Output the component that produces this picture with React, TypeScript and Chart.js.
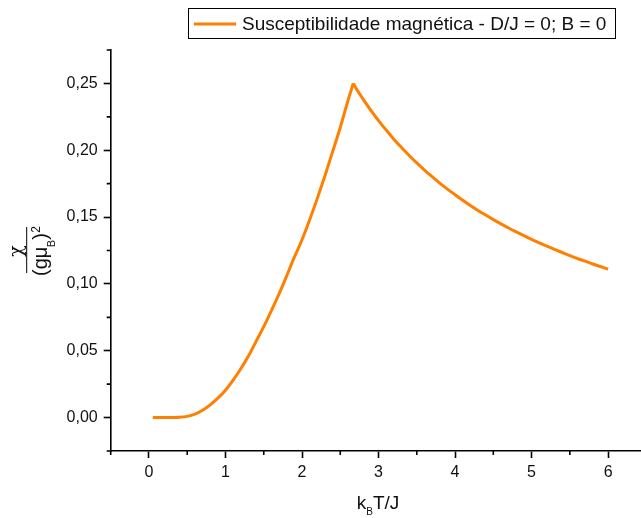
import React, { useEffect, useRef } from "react";
import { Chart, registerables } from "chart.js";

Chart.register(...registerables);

const seriesLabel = "Susceptibilidade magnética - D/J = 0; B = 0";

// below the peak (k_B T / J up to the maximum)
const temperatureLow = [
  0.05, 0.1, 0.2, 0.3, 0.4, 0.5, 0.6, 0.7, 0.8, 0.9, 1.0, 1.1, 1.2, 1.3, 1.4, 1.5,
  1.6, 1.7, 1.8, 1.9, 2.0, 2.1, 2.2, 2.3, 2.4, 2.5, 2.6, 2.67,
];
const susceptibilityLow = [
  0, 0, 0, 0, 0.0002, 0.0009, 0.0026, 0.0055, 0.0095, 0.0145, 0.0205, 0.028, 0.0365,
  0.046, 0.057, 0.068, 0.08, 0.0925, 0.106, 0.12, 0.133, 0.148, 0.164, 0.181, 0.199,
  0.217, 0.237, 0.25,
];

// above the peak
const temperatureHigh = [
  2.67, 2.7, 2.8, 2.9, 3.0, 3.1, 3.2, 3.3, 3.4, 3.5, 3.6, 3.7, 3.8, 3.9, 4.0, 4.1, 4.2,
  4.3, 4.4, 4.5, 4.6, 4.7, 4.8, 4.9, 5.0, 5.1, 5.2, 5.3, 5.4, 5.5, 5.6, 5.7, 5.8, 5.9,
  6.0,
];
const susceptibilityHigh = [
  0.25, 0.2469, 0.2381, 0.2299, 0.2222, 0.2151, 0.2083, 0.202, 0.1961, 0.1905, 0.1852,
  0.1802, 0.1754, 0.1709, 0.1667, 0.1626, 0.1587, 0.155, 0.1515, 0.1481, 0.1449, 0.1418,
  0.1389, 0.1361, 0.1333, 0.1307, 0.1282, 0.1258, 0.1235, 0.1212, 0.119, 0.117, 0.1149,
  0.113, 0.1111,
];

const xMajorTicks = [0, 1, 2, 3, 4, 5, 6];
const xMinorTicks = [-0.5, 0.5, 1.5, 2.5, 3.5, 4.5, 5.5];
const yMajorTicks = [0, 0.05, 0.1, 0.15, 0.2, 0.25];
const yMinorTicks = [-0.025, 0.025, 0.075, 0.125, 0.175, 0.225, 0.275];

const X_MIN = -0.5;
const X_MAX = 6.43;
const Y_MIN = -0.025;
const Y_MAX = 0.275;

const ORANGE = "rgb(255,127,0)";
const FONT = '"Liberation Sans", Arial, sans-serif';
const INK = "#111";

const decorPlugin = {
  id: "decor",
  afterDraw(chart: any) {
    const ctx: CanvasRenderingContext2D = chart.ctx;
    const xs = chart.scales.x;
    const ys = chart.scales.y;
    const area = chart.chartArea;
    ctx.save();
    ctx.strokeStyle = "#000";
    ctx.lineWidth = 1.6;
    // minor ticks
    ctx.beginPath();
    for (const v of xMinorTicks) {
      const px = xs.getPixelForValue(v);
      ctx.moveTo(px, area.bottom);
      ctx.lineTo(px, area.bottom + 4);
    }
    for (const v of yMinorTicks) {
      const py = ys.getPixelForValue(v);
      ctx.moveTo(area.left, py);
      ctx.lineTo(area.left - 4, py);
    }
    ctx.stroke();

    // legend
    ctx.lineWidth = 1;
    ctx.strokeStyle = "#000";
    ctx.strokeRect(188.5, 8.5, 427, 30);
    ctx.strokeStyle = ORANGE;
    ctx.lineWidth = 3;
    ctx.beginPath();
    ctx.moveTo(194, 24);
    ctx.lineTo(236, 24);
    ctx.stroke();
    ctx.fillStyle = INK;
    ctx.font = `19px ${FONT}`;
    ctx.textAlign = "left";
    ctx.textBaseline = "alphabetic";
    ctx.fillText(seriesLabel, 242, 30);

    // x title: k_B T/J
    const big = `19px ${FONT}`;
    const small = `10px ${FONT}`;
    ctx.font = big;
    const wk = ctx.measureText("k").width;
    const wrest = ctx.measureText("T/J").width;
    ctx.font = small;
    const wb = ctx.measureText("B").width;
    const total = wk + wb + wrest;
    const x0 = 378 - total / 2;
    const base = 509;
    ctx.font = big;
    ctx.fillText("k", x0, base);
    ctx.font = small;
    ctx.fillText("B", x0 + wk, base + 6);
    ctx.font = big;
    ctx.fillText("T/J", x0 + wk + wb, base);

    // y title: chi / (g mu_B)^2, rotated
    ctx.translate(30, 250);
    ctx.rotate(-Math.PI / 2);
    ctx.font = `19px "DejaVu Serif", serif`;
    ctx.textAlign = "center";
    ctx.fillText("χ", -1, -8.5);
    ctx.strokeStyle = "#000";
    ctx.lineWidth = 1;
    ctx.beginPath();
    ctx.moveTo(-23, -3.3);
    ctx.lineTo(23, -3.3);
    ctx.stroke();
    ctx.textAlign = "left";
    let u = -26;
    ctx.font = `20px ${FONT}`;
    ctx.fillText("(gμ", u, 17);
    u += ctx.measureText("(gμ").width;
    ctx.font = `11px ${FONT}`;
    ctx.fillText("B", u - 0.5, 25);
    u += ctx.measureText("B").width - 0.5;
    ctx.font = `20px ${FONT}`;
    ctx.fillText(")", u, 17);
    u += ctx.measureText(")").width;
    ctx.font = `12px ${FONT}`;
    ctx.fillText("2", u + 0.5, 10);
    ctx.restore();
  },
};

export default function App() {
  const canvasRef = useRef<HTMLCanvasElement | null>(null);

  useEffect(() => {
    document.body.style.margin = "0";
    const canvas = canvasRef.current;
    if (!canvas) return;
    const low = temperatureLow.map((t, i) => ({ x: t, y: susceptibilityLow[i] }));
    const high = temperatureHigh.map((t, i) => ({ x: t, y: susceptibilityHigh[i] }));
    const common = {
      borderColor: ORANGE,
      backgroundColor: ORANGE,
      borderWidth: 3,
      pointRadius: 0,
      cubicInterpolationMode: "monotone" as const,
      fill: false,
      borderJoinStyle: "miter" as const,
    };
    const chart = new Chart(canvas, {
      type: "line",
      data: {
        datasets: [
          { label: seriesLabel, data: low, ...common },
          { label: seriesLabel, data: high, ...common },
        ],
      },
      options: {
        animation: false,
        responsive: false,
        maintainAspectRatio: false,
        devicePixelRatio: 1,
        layout: { padding: { top: 50, right: 0, left: 0, bottom: 0 } },
        plugins: {
          legend: { display: false },
          tooltip: { enabled: false },
        },
        scales: {
          x: {
            type: "linear",
            min: X_MIN,
            max: X_MAX,
            afterBuildTicks: (scale: any) => {
              scale.ticks = xMajorTicks.map((v) => ({ value: v }));
            },
            afterFit: (scale: any) => {
              scale.height = 67;
            },
            grid: {
              display: true,
              drawOnChartArea: false,
              drawTicks: true,
              tickLength: 7,
              tickWidth: 1.6,
              tickColor: "#000",
            },
            border: { display: true, color: "#000", width: 1.6 },
            ticks: {
              autoSkip: false,
              maxRotation: 0,
              padding: 5,
              color: INK,
              font: { family: FONT, size: 16 },
              callback: (v: any) => String(v),
            },
          },
          y: {
            type: "linear",
            min: Y_MIN,
            max: Y_MAX,
            afterBuildTicks: (scale: any) => {
              scale.ticks = yMajorTicks.map((v) => ({ value: v }));
            },
            afterFit: (scale: any) => {
              scale.width = 110.7;
            },
            grid: {
              display: true,
              drawOnChartArea: false,
              drawTicks: true,
              tickLength: 7,
              tickWidth: 1.6,
              tickColor: "#000",
            },
            border: { display: true, color: "#000", width: 1.6 },
            ticks: {
              autoSkip: false,
              padding: 6,
              color: INK,
              font: { family: FONT, size: 16 },
              callback: (v: any) => Number(v).toFixed(2).replace(".", ","),
            },
          },
        },
      },
      plugins: [decorPlugin],
    });
    return () => chart.destroy();
  }, []);

  return (
    <div style={{ position: "fixed", left: 0, top: 0, width: 641, height: 518 }}>
      <canvas ref={canvasRef} width={641} height={518} style={{ width: 641, height: 518, display: "block" }} />
    </div>
  );
}
